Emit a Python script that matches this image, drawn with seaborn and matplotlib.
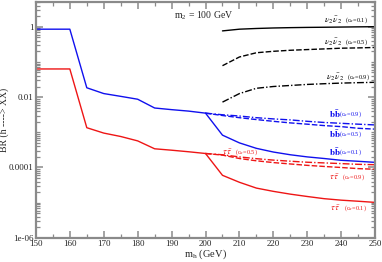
"""BR(h -> XX) vs m_h for m_2 = 100 GeV."""
import matplotlib

matplotlib.use("Agg")
import matplotlib.pyplot as plt
from matplotlib.ticker import FixedLocator, LogLocator, NullFormatter, MultipleLocator
import seaborn as sns

# common branch (all c_alpha) below 200 GeV
mh_low = [150, 160, 165, 170, 175, 180, 185, 190, 195, 200]
bb_low = [0.85, 0.85, 0.0184, 0.0126, 0.0105, 0.0087, 0.0049, 0.0044, 0.0040, 0.0035]
tautau_low = [0.063, 0.063, 0.00135, 0.00095, 0.00076, 0.00057, 0.00034, 0.00031, 0.00028, 0.00025]

# above threshold
mh_high = [200, 205, 210, 215, 220, 225, 230, 235, 240, 245, 250]
bb_c01 = [3.5e-3, 8.3e-4, 5.0e-4, 3.5e-4, 2.75e-4, 2.3e-4, 2.0e-4, 1.8e-4, 1.6e-4, 1.5e-4, 1.4e-4]
bb_c05 = [3.5e-3, 3.0e-3, 2.6e-3, 2.3e-3, 2.05e-3, 1.85e-3, 1.7e-3, 1.55e-3, 1.45e-3, 1.3e-3, 1.23e-3]
bb_c09 = [3.5e-3, 3.15e-3, 2.9e-3, 2.6e-3, 2.4e-3, 2.25e-3, 2.05e-3, 1.9e-3, 1.8e-3, 1.7e-3, 1.62e-3]
tt_c01 = [2.5e-4, 6.0e-5, 3.8e-5, 2.6e-5, 2.1e-5, 1.75e-5, 1.5e-5, 1.3e-5, 1.18e-5, 1.1e-5, 1.02e-5]
tt_c05 = [2.5e-4, 2.25e-4, 1.8e-4, 1.55e-4, 1.38e-4, 1.26e-4, 1.15e-4, 1.07e-4, 1.0e-4, 9.3e-5, 8.9e-5]
tt_c09 = [2.5e-4, 2.3e-4, 2.0e-4, 1.78e-4, 1.62e-4, 1.51e-4, 1.41e-4, 1.35e-4, 1.29e-4, 1.23e-4, 1.2e-4]

mh_nu = [205, 210, 215, 220, 225, 230, 235, 240, 245, 250]
nu_c01 = [0.76, 0.85, 0.89, 0.92, 0.94, 0.955, 0.965, 0.977, 0.99, 1.0]
nu_c05 = [0.078, 0.138, 0.182, 0.2, 0.214, 0.224, 0.234, 0.245, 0.25, 0.257]
nu_c09 = [0.0072, 0.0126, 0.0178, 0.02, 0.0214, 0.0229, 0.024, 0.025, 0.0257, 0.0263]

y_ticks = [1e-6, 1e-4, 1e-2, 1]
y_ticklabels = ["1e-06", "0.0001", "0.01", "1"]

sns.set_style("ticks")
plt.rcParams["font.family"] = ["Liberation Serif", "DejaVu Serif"]
plt.rcParams["mathtext.fontset"] = "stix"

fig = plt.figure(figsize=(3.82, 2.62), dpi=100)
ax = fig.add_axes([0.094, 0.092, 0.888, 0.9])

blue, red, black = "#1010ee", "#ee1515", "black"
lw = 1.0
dash = (0, (4, 1.5))
dashdot = (0, (5, 1.5, 1, 1.5))
sns.lineplot(x=mh_low, y=bb_low, ax=ax, color=blue, lw=lw)
sns.lineplot(x=mh_low, y=tautau_low, ax=ax, color=red, lw=lw)
sns.lineplot(x=mh_high, y=bb_c01, ax=ax, color=blue, lw=lw)
sns.lineplot(x=mh_high, y=bb_c05, ax=ax, color=blue, lw=lw, linestyle=dash)
sns.lineplot(x=mh_high, y=bb_c09, ax=ax, color=blue, lw=lw, linestyle=dashdot)
sns.lineplot(x=mh_high, y=tt_c01, ax=ax, color=red, lw=lw)
sns.lineplot(x=mh_high, y=tt_c05, ax=ax, color=red, lw=lw, linestyle=dash)
sns.lineplot(x=mh_high, y=tt_c09, ax=ax, color=red, lw=lw, linestyle=dashdot)
sns.lineplot(x=mh_nu, y=nu_c01, ax=ax, color=black, lw=lw)
sns.lineplot(x=mh_nu, y=nu_c05, ax=ax, color=black, lw=lw, linestyle=dash)
sns.lineplot(x=mh_nu, y=nu_c09, ax=ax, color=black, lw=lw, linestyle=dashdot)

ax.set_yscale("log")
ax.set_xlim(150, 250)
ax.set_ylim(1e-6, 5)
ax.yaxis.set_major_locator(FixedLocator(y_ticks))
ax.set_yticklabels(y_ticklabels)
ax.yaxis.set_minor_locator(LogLocator(base=10, subs=range(1, 10), numticks=20))
ax.yaxis.set_minor_formatter(NullFormatter())
ax.xaxis.set_major_locator(MultipleLocator(10))
ax.xaxis.set_minor_locator(MultipleLocator(5))

grey = "#8a8a8a"
for s in ax.spines.values():
    s.set_color(grey)
    s.set_linewidth(1.6)
ax.tick_params(which="both", direction="in", top=True, right=True, color=grey,
               labelsize=6.5, pad=1.5)
ax.tick_params(which="major", length=5, width=1.1)
ax.tick_params(which="minor", length=3, width=0.9)

ax.set_xlabel(r"m$_\mathregular{h}$ (GeV)", fontsize=7.5, labelpad=0)
ax.set_ylabel("BR (h ----> XX)", fontsize=7, labelpad=0)

ax.text(199.6, 2.0, r"m$_\mathregular{2}$ = 100 GeV", fontsize=7, ha="center", va="center")


def label(x, y, main, sub, color, gap):
    ax.text(x, y, main, fontsize=6.5, color=color, ha="left", va="center")
    ax.text(x + gap, y, sub, fontsize=4.5, color=color, ha="left", va="center")


nu = r"$\nu_2\,\bar{\nu}_2$"
bb = r"$\mathbf{b\bar{b}}$"
tt = r"$\tau\,\bar{\tau}$"
label(235.0, 1.55, nu, r"(c$_\alpha$=0.1)", black, 6.0)
label(235.0, 0.37, nu, r"(c$_\alpha$=0.5)", black, 6.0)
label(235.6, 0.038, nu, r"(c$_\alpha$=0.9)", black, 6.0)
label(236.4, 3.2e-3, bb, r"(c$_\alpha$=0.9)", blue, 3.0)
label(236.4, 8.7e-4, bb, r"(c$_\alpha$=0.5)", blue, 3.0)
label(236.4, 2.8e-4, bb, r"(c$_\alpha$=0.1)", blue, 3.0)
label(204.9, 2.8e-4, tt, r"(c$_\alpha$=0.5)", red, 3.9)
label(236.4, 5.2e-5, tt, r"(c$_\alpha$=0.9)", red, 3.9)
label(236.8, 6.9e-6, tt, r"(c$_\alpha$=0.1)", red, 3.9)

fig.savefig("out.png", dpi=100)
plt.close(fig)
